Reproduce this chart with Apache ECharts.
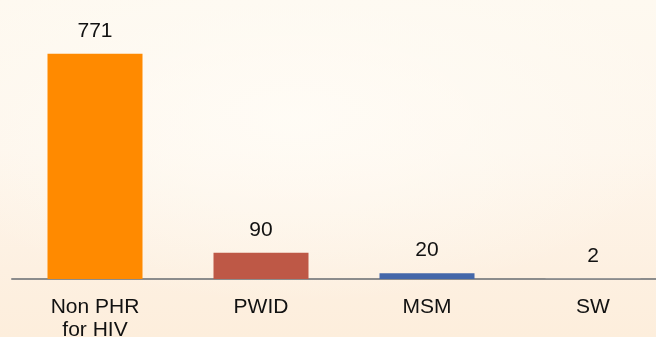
<!DOCTYPE html>
<html>
<head>
<meta charset="utf-8">
<script src="https://cdn.jsdelivr.net/npm/echarts@6/dist/echarts.min.js"></script>
<style>
  html, body { margin: 0; padding: 0; overflow: hidden; }
  #wrap {
    position: relative; width: 656px; height: 337px; overflow: hidden;
    background:
      radial-gradient(ellipse 60% 55% at 45% 35%, rgba(255,252,246,0.9) 0%, rgba(255,252,246,0) 100%),
      linear-gradient(180deg, #fef9f0 0%, #fef6ec 45%, #fdf0e1 80%, #fdeedc 100%);
  }
  /* the plot runs past the right edge, so the last slot is partly cut off */
  #chart { position: absolute; left: 0; top: 0; width: 680px; height: 337px; }
</style>
</head>
<body>
<div id="wrap"><div id="chart"></div></div>
<script>
// Population groups and their counts
const categories = ['Non PHR\nfor HIV', 'PWID', 'MSM', 'SW'];
const counts = [771, 90, 20, 2];
const barColors = ['#ff8a00', '#be5846', '#4467a9', '#a5a5a5'];

const chart = echarts.init(document.getElementById('chart'), null, { renderer: 'canvas' });

chart.setOption({
  backgroundColor: 'transparent',
  animation: false,
  grid: {
    left: 12, top: 16, right: 4, height: 263,
    containLabel: false,
    outerBoundsMode: 'none'
  },
  xAxis: {
    type: 'category',
    data: categories,
    boundaryGap: true,
    axisLine: { show: true, lineStyle: { color: '#8c8c8c', width: 2 } },
    axisTick: { show: false },
    axisLabel: {
      color: '#111',
      fontFamily: 'Liberation Sans, Arial, sans-serif',
      fontSize: 21,
      lineHeight: 23,
      margin: 17,
      interval: 0
    }
  },
  yAxis: {
    type: 'value',
    min: 0,
    max: 900,
    show: false,
    splitLine: { show: false }
  },
  series: [{
    type: 'bar',
    barWidth: 95,
    data: counts.map((v, i) => ({ value: v, itemStyle: { color: barColors[i] } })),
    label: {
      show: true,
      position: 'top',
      distance: 12,
      color: '#111',
      fontFamily: 'Liberation Sans, Arial, sans-serif',
      fontSize: 21
    }
  }]
});
</script>
</body>
</html>
